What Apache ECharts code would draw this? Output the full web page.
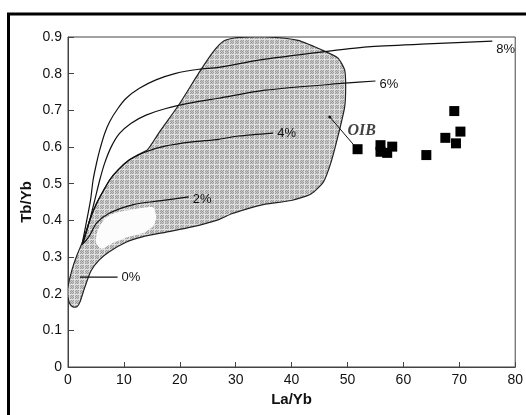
<!DOCTYPE html>
<html>
<head>
<meta charset="utf-8">
<script src="https://cdn.jsdelivr.net/npm/echarts@6/dist/echarts.min.js"></script>
<style>
  html, body { margin: 0; padding: 0; background: #fff; }
  #chart { width: 526px; height: 415px; }
</style>
</head>
<body>
<div id="chart"></div>
<script>
// sample points, La/Yb vs Tb/Yb
var samples = [
  [51.8, 0.594], [55.9, 0.605], [55.9, 0.587], [57.1, 0.584], [58.0, 0.601],
  [64.1, 0.578], [69.1, 0.698], [67.5, 0.625], [70.2, 0.642], [69.4, 0.610]
];

// melting curves
var curve8 = [
  [2.54, 0.337], [3.14, 0.383], [4.03, 0.455], [4.49, 0.51], [5.09, 0.555],
  [5.68, 0.592], [6.56, 0.637], [7.45, 0.669], [8.92, 0.705], [10.41, 0.733],
  [12.77, 0.76], [15.73, 0.783], [19.28, 0.801], [23.41, 0.812], [26.96, 0.817],
  [34.1, 0.837], [45.2, 0.859], [53.6, 0.873], [64.2, 0.881], [75.9, 0.889]
];
var curve6 = [
  [2.6, 0.337], [3.6, 0.385], [4.7, 0.45], [5.68, 0.51], [6.56, 0.556],
  [7.75, 0.601], [9.22, 0.637], [11.3, 0.665], [13.96, 0.687], [17.51, 0.705],
  [22.23, 0.721], [26.96, 0.733], [35.3, 0.755], [49.5, 0.774], [55.0, 0.78]
];
var curve4 = [
  [2.7, 0.337], [3.9, 0.401], [5.14, 0.447], [6.3, 0.48], [7.45, 0.51],
  [8.92, 0.537], [11.0, 0.565], [13.96, 0.587], [17.51, 0.603], [22.23, 0.614],
  [26.96, 0.621], [30.5, 0.63], [36.7, 0.638]
];
var curve2 = [
  [2.48, 0.333], [3.73, 0.355], [5.14, 0.393], [7.45, 0.42], [11.7, 0.443],
  [16.3, 0.453], [21.6, 0.464]
];
var leader0 = [[2.13, 0.245], [8.87, 0.245]];

// OIB field outline
var oibField = [
  [14.2, 0.592], [16.32, 0.64], [19.87, 0.716], [23.41, 0.802], [26.0, 0.86],
  [27.85, 0.889], [29.98, 0.898], [35.3, 0.9], [41.15, 0.891], [45.23, 0.866],
  [48.25, 0.843], [49.49, 0.81], [49.67, 0.764], [49.49, 0.709], [48.25, 0.627],
  [47.0, 0.556], [45.7, 0.505], [43.46, 0.472], [39.91, 0.454], [35.3, 0.444],
  [31.75, 0.43], [29.27, 0.418], [26.96, 0.402], [22.17, 0.382], [17.56, 0.368],
  [13.3, 0.355], [10.47, 0.341], [7.45, 0.315], [5.6, 0.292], [4.1, 0.262],
  [3.02, 0.218], [2.13, 0.177], [1.6, 0.164], [0.89, 0.164], [0.35, 0.172],
  [0.0, 0.191], [0.0, 0.218], [0.71, 0.265], [1.6, 0.305], [2.7, 0.345],
  [3.9, 0.401], [5.14, 0.447], [6.3, 0.48], [7.45, 0.51], [8.92, 0.537],
  [11.0, 0.565], [12.8, 0.581]
];
var fieldHole = [
  [5.3, 0.372], [6.6, 0.405], [8.4, 0.42], [11.0, 0.428], [15.2, 0.436],
  [15.8, 0.41], [15.3, 0.385], [13.6, 0.366], [10.6, 0.354], [8.0, 0.338],
  [6.0, 0.322], [5.0, 0.34]
];
var oibLeader = [[46.83, 0.682], [51.26, 0.603]];
var oibLabel = [[50.0, 0.643]];

// dotted gray fill
var pat = document.createElement("canvas");
pat.width = 5;
pat.height = 5;
var pc = pat.getContext("2d");
pc.fillStyle = "#9c9c9c";
pc.fillRect(0, 0, 5, 5);
pc.fillStyle = "#c8c8c8";
for (var i = 0; i < 4; i++) {
  for (var j = 0; j < 4; j++) {
    if ((i + j) % 2 === 0) pc.fillRect(i, j, 1, 1);
  }
}
pc.fillStyle = "#e0e0e0";
pc.fillRect(4, 0, 1, 5);
pc.fillRect(0, 4, 5, 1);

function polygonSeries(pts, style, z, smooth) {
  return {
    type: "custom",
    data: pts,
    z: z,
    silent: true,
    clip: true,
    renderItem: function (params, api) {
      if (params.dataIndex !== 0) return;
      var points = pts.map(function (p) { return api.coord(p); });
      return {
        type: "polygon",
        shape: { points: points, smooth: smooth },
        style: style
      };
    }
  };
}

function curveSeries(name, pts, offset) {
  return {
    name: name,
    type: "line",
    data: pts,
    smooth: 0.25,
    symbol: "none",
    z: 5,
    lineStyle: { color: "#111", width: 1.2 },
    endLabel: {
      show: true,
      formatter: name,
      color: "#111",
      fontSize: 13,
      fontFamily: "Liberation Sans",
      distance: 4,
      offset: offset
    }
  };
}

var myChart = echarts.init(document.getElementById("chart"));
var axisFont = { color: "#111", fontSize: 14, fontFamily: "Liberation Sans" };
var nameFont = { color: "#111", fontSize: 15, fontWeight: "bold", fontFamily: "Liberation Sans" };

var option = {
  animation: false,
  backgroundColor: "#fff",
  grid: {
    left: 68, right: 7, top: 37, bottom: 48,
    show: true, borderColor: "#444", borderWidth: 1
  },
  xAxis: {
    type: "value",
    min: 0, max: 80, interval: 10,
    name: "La/Yb",
    nameLocation: "middle",
    nameGap: 25,
    nameMoveOverlap: false,
    nameTextStyle: nameFont,
    axisLine: { lineStyle: { color: "#444", width: 1 } },
    axisTick: { inside: true, length: 5, lineStyle: { color: "#444" } },
    axisLabel: Object.assign({ margin: 6 }, axisFont),
    splitLine: { show: false }
  },
  yAxis: {
    type: "value",
    min: 0, max: 0.9, interval: 0.1,
    name: "Tb/Yb",
    nameLocation: "middle",
    nameGap: 34,
    nameMoveOverlap: false,
    nameTextStyle: nameFont,
    axisLine: { show: true, lineStyle: { color: "#444", width: 1 } },
    axisTick: { show: true, inside: true, length: 6, lineStyle: { color: "#444" } },
    axisLabel: Object.assign({ margin: 6 }, axisFont),
    splitLine: { show: false }
  },
  graphic: [
    {
      type: "rect",
      silent: true,
      shape: { x: 8.5, y: 14, width: 600, height: 500 },
      style: { fill: "none", stroke: "#000", lineWidth: 3 }
    }
  ],
  series: [
    polygonSeries(oibField, { fill: { image: pat, repeat: "repeat" }, stroke: "#222", lineWidth: 1.2 }, 1, 0.2),
    polygonSeries(fieldHole, { fill: "#fcfcfc", stroke: "none" }, 2, 0.2),
    curveSeries("8%", curve8, [0, 8]),
    curveSeries("6%", curve6, [0, 3]),
    curveSeries("4%", curve4, [0, 0]),
    curveSeries("2%", curve2, [0, 3]),
    curveSeries("0%", leader0, [0, 0]),
    {
      name: "OIB leader",
      type: "line",
      data: oibLeader,
      symbol: "none",
      z: 5,
      lineStyle: { color: "#111", width: 1 }
    },
    {
      name: "OIB dot",
      type: "scatter",
      data: [oibLeader[0]],
      symbol: "circle",
      symbolSize: 3,
      z: 5,
      itemStyle: { color: "#111", opacity: 1 }
    },
    {
      name: "OIB",
      type: "scatter",
      data: oibLabel,
      symbolSize: 0,
      z: 6,
      label: {
        show: true,
        position: "right",
        distance: 0,
        formatter: "OIB",
        color: "#111",
        fontSize: 16,
        fontStyle: "italic",
        fontWeight: "bold",
        fontFamily: "Liberation Serif"
      }
    },
    {
      name: "samples",
      type: "scatter",
      data: samples,
      symbol: "rect",
      symbolSize: 10,
      z: 7,
      itemStyle: { color: "#000", opacity: 1 }
    }
  ]
};
myChart.setOption(option);
</script>
</body>
</html>
